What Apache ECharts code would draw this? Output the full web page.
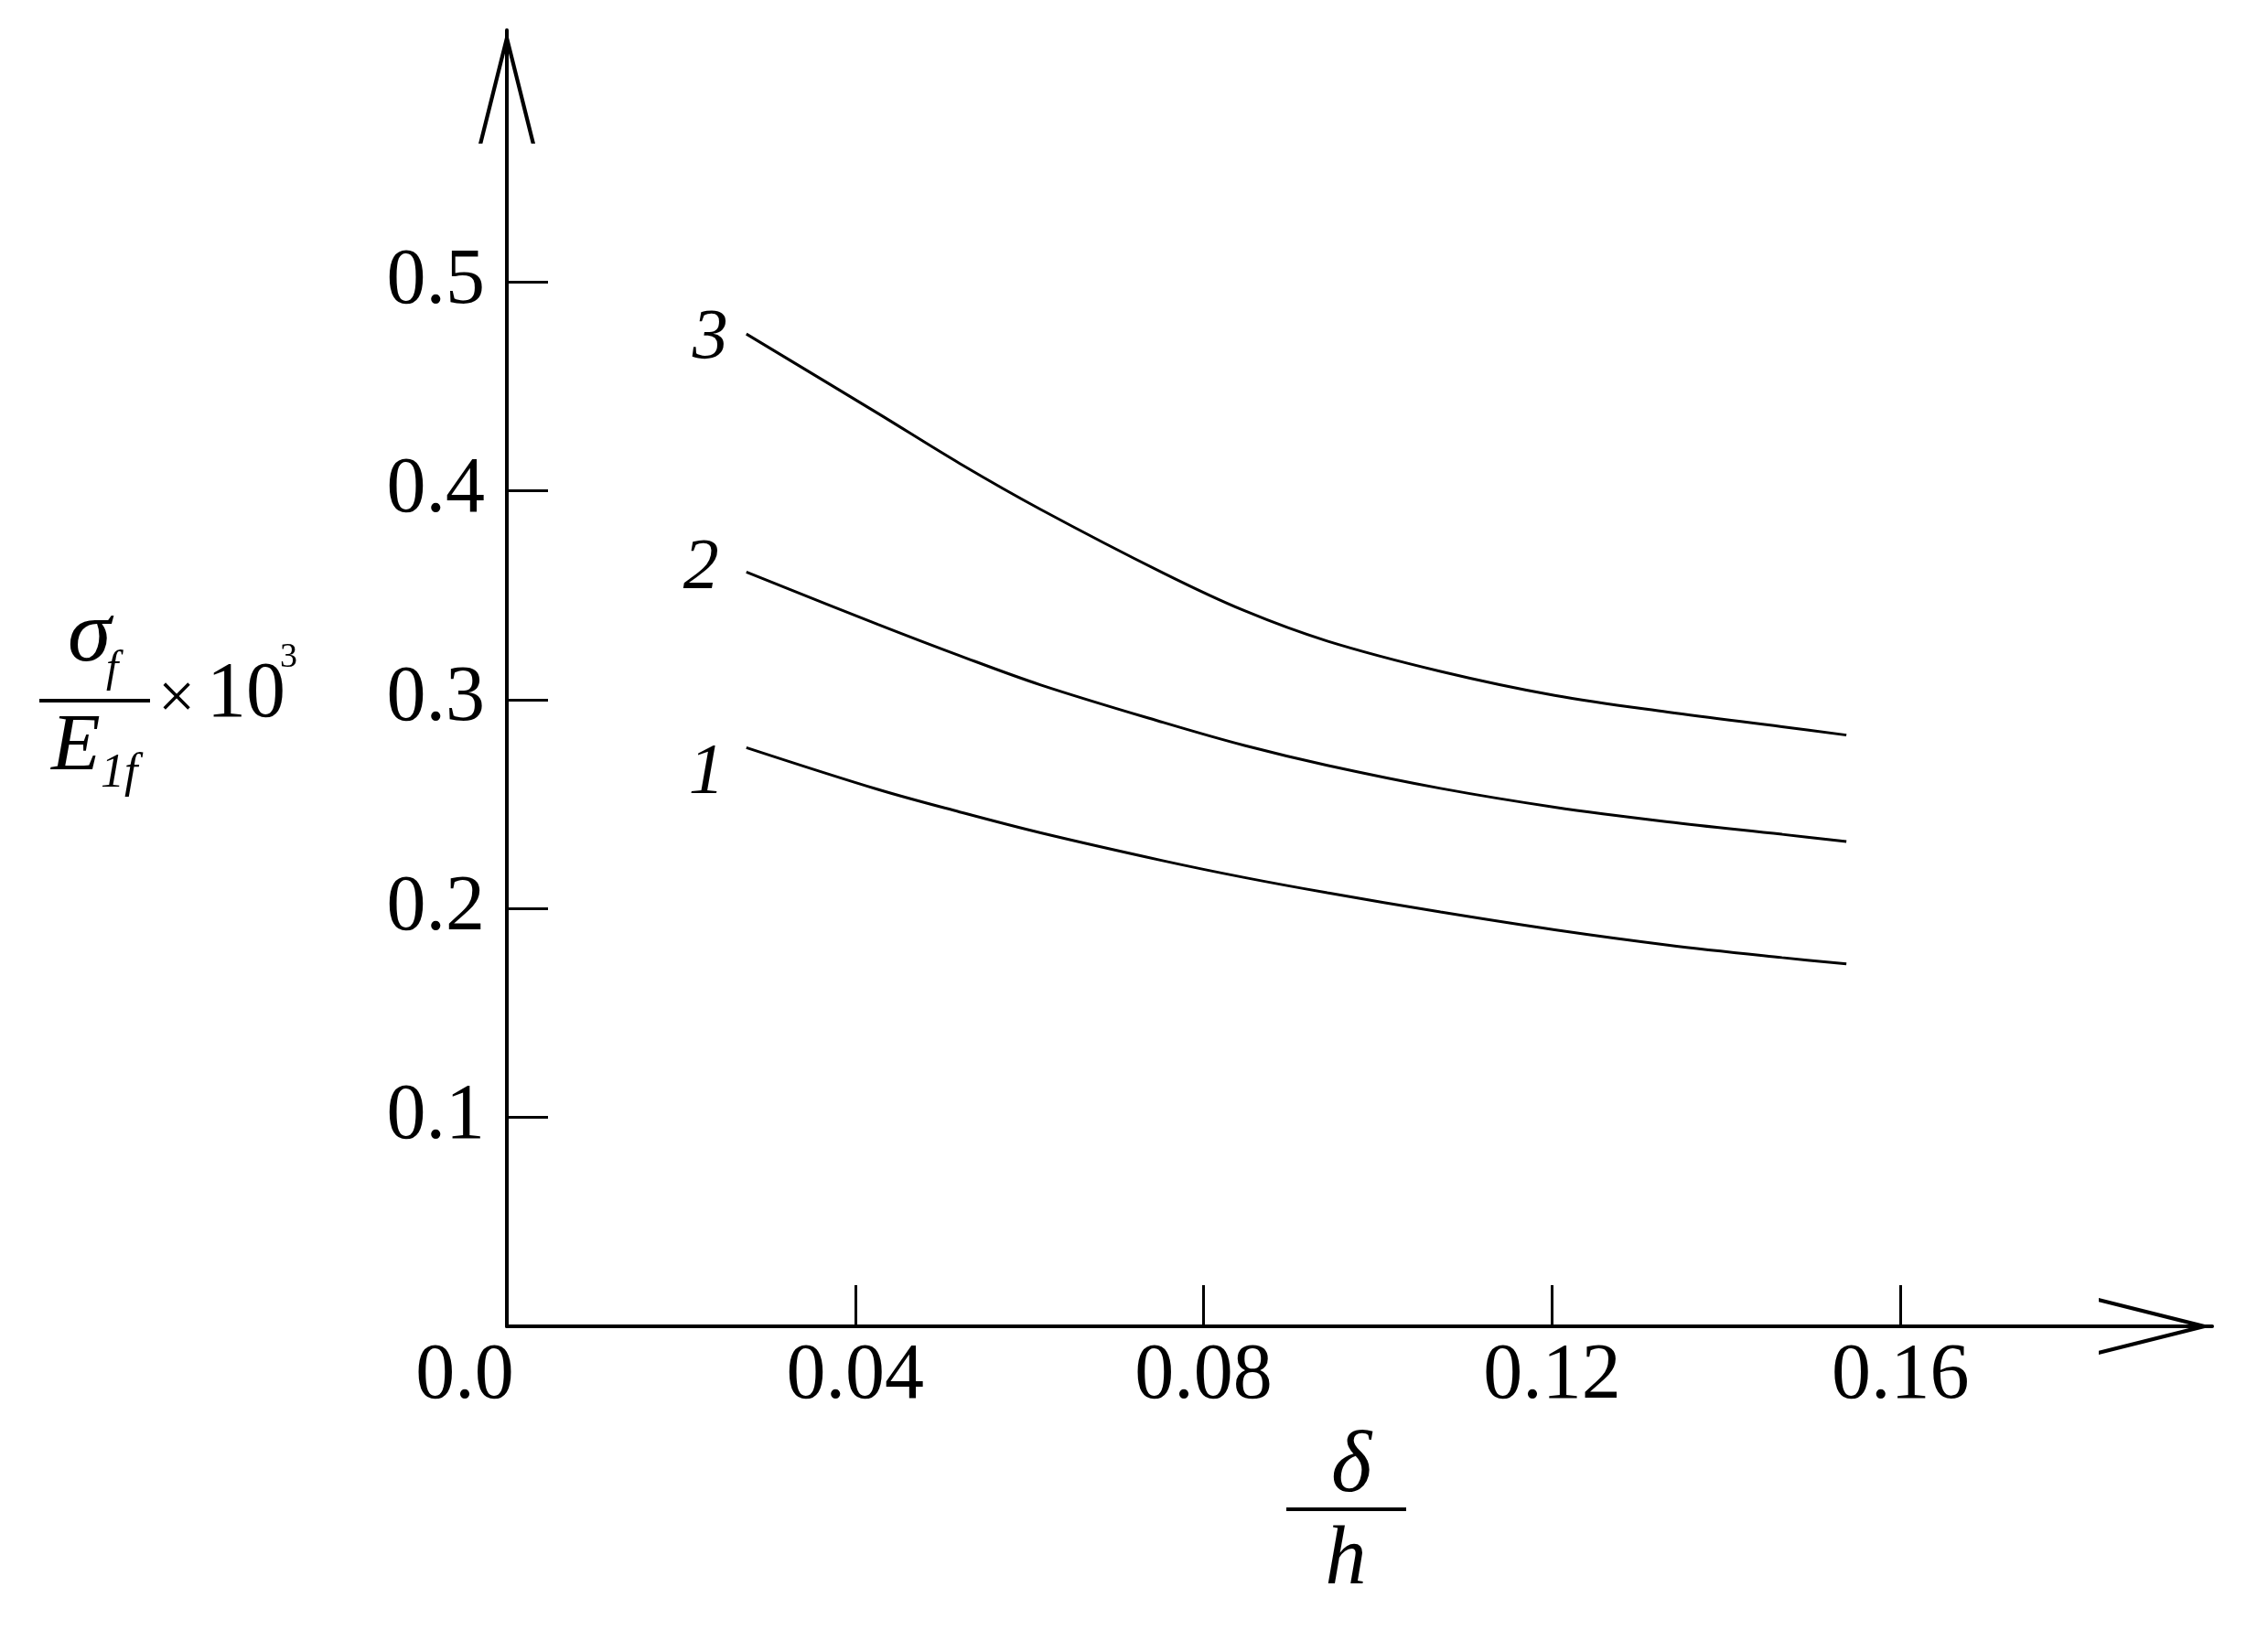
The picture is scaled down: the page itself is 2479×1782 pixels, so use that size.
<!DOCTYPE html>
<html>
<head>
<meta charset="utf-8">
<script src="https://cdn.jsdelivr.net/npm/echarts@6/dist/echarts.min.js"></script>
<style>
  html, body { margin: 0; padding: 0; background: #fff; }
  #chart { width: 2479px; height: 1782px; }
</style>
</head>
<body>
<div id="chart"></div>
<script>
// δ/h 取样点（三条曲线共用）
const deltaH = [0.0275, 0.0426, 0.0520, 0.0613, 0.0754, 0.0847, 0.0942, 0.1072, 0.1203, 0.1333, 0.1464, 0.1538];
// σf/E1f ×10^3
const curve1 = [0.277, 0.257, 0.2462, 0.2362, 0.2228, 0.2148, 0.2075, 0.1983, 0.1898, 0.1825, 0.1765, 0.1735];
const curve2 = [0.361, 0.336, 0.321, 0.307, 0.289, 0.278, 0.2685, 0.2575, 0.2485, 0.2415, 0.2355, 0.232];
const curve3 = [0.475, 0.437, 0.413, 0.391, 0.3605, 0.3425, 0.328, 0.3135, 0.302, 0.294, 0.287, 0.283];
const curveNames = ['1', '2', '3'];
// 刻度
const xTicks = [0.04, 0.08, 0.12, 0.16];
const xLabels = [0, 0.04, 0.08, 0.12, 0.16];
const yTicks = [0.1, 0.2, 0.3, 0.4, 0.5];

const FONT = 'Liberation Serif';
// 开口箭头（细线 V 形）
const arrowPath = 'path://M50 0 L100 200 L93 200 L50 28 L7 200 L0 200 Z';

const chart = echarts.init(document.getElementById('chart'));

// 曲线起点处的编号标签
const buildData = (ys, name, distance, offset) => {
    return ys.map((y, i) => {
        if (i === 0) {
            return {
                value: [deltaH[i], y],
                label: {
                    show: true,
                    formatter: name,
                    position: 'left',
                    distance: distance,
                    offset: offset,
                    fontFamily: FONT,
                    fontStyle: 'italic',
                    fontSize: 78,
                    color: '#000'
                }
            };
        }
        return [deltaH[i], y];
    });
};

const lineSeries = (name, ys, distance, offset) => ({
    name: name,
    type: 'line',
    smooth: 0.35,
    showSymbol: true,
    symbolSize: 0,
    silent: true,
    lineStyle: { color: '#000', width: 3 },
    itemStyle: { color: '#000' },
    data: buildData(ys, name, distance, offset)
});

const option = {
    backgroundColor: '#fff',
    animation: false,
    grid: {
        left: 554,
        right: 61,
        top: 33,
        bottom: 332,
        outerBoundsMode: 'none'
    },
    xAxis: {
        type: 'value',
        min: 0,
        max: 0.1958,
        splitLine: { show: false },
        axisLine: {
            lineStyle: { color: '#000', width: 4 },
            symbol: ['none', arrowPath],
            symbolSize: [62, 124],
            symbolOffset: [0, -62]
        },
        axisTick: {
            inside: true,
            length: 45,
            customValues: xTicks,
            lineStyle: { color: '#000', width: 3 }
        },
        axisLabel: {
            customValues: xLabels,
            margin: 12,
            color: '#000',
            fontFamily: FONT,
            fontSize: 86,
            formatter: v => v === 0 ? '{z|0.0}' : v.toFixed(2),
            rich: {
                z: { fontFamily: FONT, fontSize: 86, color: '#000', padding: [0, 92, 0, 0] }
            }
        }
    },
    yAxis: {
        type: 'value',
        min: 0,
        max: 0.6204,
        splitLine: { show: false },
        axisLine: {
            lineStyle: { color: '#000', width: 4 },
            symbol: ['none', arrowPath],
            symbolSize: [62, 124],
            symbolOffset: [0, -62]
        },
        axisTick: {
            inside: true,
            length: 45,
            customValues: yTicks,
            lineStyle: { color: '#000', width: 3 }
        },
        axisLabel: {
            customValues: yTicks,
            margin: 24,
            color: '#000',
            fontFamily: FONT,
            fontSize: 86,
            formatter: v => v.toFixed(1)
        }
    },
    series: [
        lineSeries(curveNames[0], curve1, 24, [0, 28]),
        lineSeries(curveNames[1], curve2, 30, [0, -4]),
        lineSeries(curveNames[2], curve3, 20, [0, 5])
    ],
    graphic: [
        // 纵轴名称 σf / E1f ×10^3
        { type: 'text', x: 74, y: 697, style: { text: 'σ', font: 'italic 96px ' + FONT, fill: '#000', textAlign: 'left', textVerticalAlign: 'middle' } },
        { type: 'text', x: 116, y: 732, style: { text: 'f', font: 'italic 48px ' + FONT, fill: '#000', textAlign: 'left', textVerticalAlign: 'middle' } },
        { type: 'line', shape: { x1: 43, y1: 766, x2: 164, y2: 766 }, style: { stroke: '#000', lineWidth: 4 } },
        { type: 'text', x: 56, y: 818, style: { text: 'E', font: 'italic 88px ' + FONT, fill: '#000', textAlign: 'left', textVerticalAlign: 'middle' } },
        { type: 'text', x: 110, y: 846, style: { text: '1f', font: 'italic 52px ' + FONT, fill: '#000', textAlign: 'left', textVerticalAlign: 'middle' } },
        { type: 'text', x: 193, y: 766, style: { text: '×', font: '72px ' + FONT, fill: '#000', textAlign: 'center', textVerticalAlign: 'middle' } },
        { type: 'text', x: 226, y: 760, style: { text: '10', font: '86px ' + FONT, fill: '#000', textAlign: 'left', textVerticalAlign: 'middle' } },
        { type: 'text', x: 306, y: 719, style: { text: '3', font: '38px ' + FONT, fill: '#000', textAlign: 'left', textVerticalAlign: 'middle' } },
        // 横轴名称 δ / h
        { type: 'text', x: 1477, y: 1605, style: { text: 'δ', font: 'italic 95px ' + FONT, fill: '#000', textAlign: 'center', textVerticalAlign: 'middle' } },
        { type: 'line', shape: { x1: 1406, y1: 1650, x2: 1537, y2: 1650 }, style: { stroke: '#000', lineWidth: 4 } },
        { type: 'text', x: 1471, y: 1707, style: { text: 'h', font: 'italic 90px ' + FONT, fill: '#000', textAlign: 'center', textVerticalAlign: 'middle' } }
    ]
};

chart.setOption(option);
</script>
</body>
</html>
